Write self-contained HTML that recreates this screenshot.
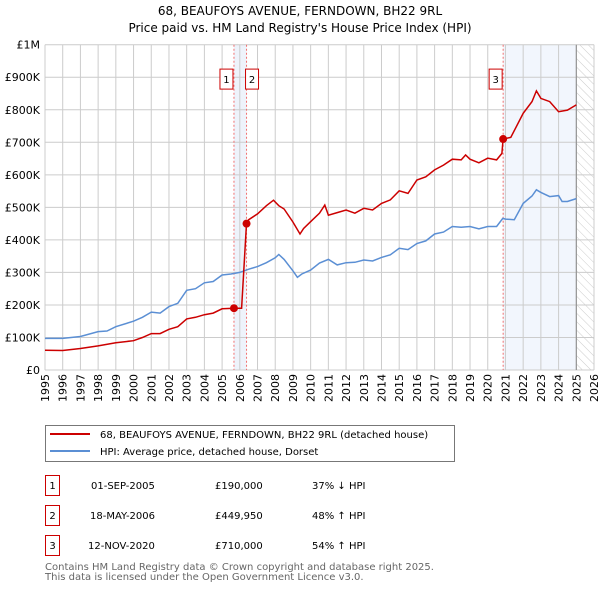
<!DOCTYPE html>
<html><head><meta charset="utf-8"><style>
body{margin:0;background:#fff;font-family:"Liberation Sans","DejaVu Sans",sans-serif}
</style></head><body>
<svg width="600" height="590" xmlns="http://www.w3.org/2000/svg" style="font-family:'DejaVu Sans','Liberation Sans',sans-serif">
<defs><pattern id="hatch" width="6" height="6" patternUnits="userSpaceOnUse" patternTransform="rotate(-45)"><line x1="0" y1="0" x2="0" y2="6" stroke="#ccc" stroke-width="1"/></pattern></defs>
<text x="300" y="15" text-anchor="middle" font-size="12">68, BEAUFOYS AVENUE, FERNDOWN, BH22 9RL</text>
<text x="300" y="32" text-anchor="middle" font-size="12">Price paid vs. HM Land Registry's House Price Index (HPI)</text>
<g id="plot"></g>
<g>
<rect x="45.5" y="425.5" width="409" height="36" fill="#fff" stroke="#777"/>
<line x1="50" y1="434" x2="90" y2="434" stroke="#cc0000" stroke-width="2"/>
<text x="100" y="438" font-size="10">68, BEAUFOYS AVENUE, FERNDOWN, BH22 9RL (detached house)</text>
<line x1="50" y1="451" x2="90" y2="451" stroke="#5b8fd4" stroke-width="2"/>
<text x="100" y="455" font-size="10">HPI: Average price, detached house, Dorset</text>
</g>
<g font-size="10">
<rect x="45.5" y="475.5" width="14" height="20" fill="none" stroke="#c00"/><text x="52.5" y="489" text-anchor="middle">1</text>
<text x="91" y="489">01-SEP-2005</text><text x="215" y="489">£190,000</text><text x="312" y="489">37% ↓ HPI</text>
<rect x="45.5" y="505.5" width="14" height="20" fill="none" stroke="#c00"/><text x="52.5" y="519" text-anchor="middle">2</text>
<text x="90" y="519">18-MAY-2006</text><text x="215" y="519">£449,950</text><text x="312" y="519">48% ↑ HPI</text>
<rect x="45.5" y="535.5" width="14" height="20" fill="none" stroke="#c00"/><text x="52.5" y="549" text-anchor="middle">3</text>
<text x="88" y="549">12-NOV-2020</text><text x="215" y="549">£710,000</text><text x="312" y="549">54% ↑ HPI</text>
</g>
<text x="45" y="570" font-size="10" fill="#666">Contains HM Land Registry data © Crown copyright and database right 2025.</text>
<text x="45" y="580" font-size="10" fill="#666">This data is licensed under the Open Government Licence v3.0.</text>
</svg>
<script>
const hpiT=[1995,1996,1997,1998,1998.5,1999,2000,2000.5,2001,2001.5,2002,2002.5,2003,2003.5,2004,2004.5,2005,2005.5,2006,2006.5,2007,2007.5,2008,2008.2,2008.5,2009,2009.25,2009.5,2010,2010.5,2011,2011.5,2012,2012.5,2013,2013.5,2014,2014.5,2015,2015.5,2016,2016.5,2017,2017.5,2018,2018.5,2019,2019.5,2020,2020.5,2020.85,2021,2021.5,2022,2022.5,2022.75,2023,2023.5,2024,2024.2,2024.5,2025];
const hpiV=[97,97,103,118,120,133,150,162,178,175,195,205,245,250,268,272,292,295,300,310,318,330,345,355,340,305,285,295,307,329,340,323,330,331,338,335,346,354,374,370,389,397,418,424,441,439,441,434,441,441,466,464,462,512,535,554,546,533,536,518,518,527];
const redT=[1995,1996,1997,1998,1999,2000,2000.5,2001,2001.5,2002,2002.5,2003,2003.5,2004,2004.5,2005,2005.67,2006.1,2006.38,2006.5,2007,2007.5,2007.9,2008.2,2008.5,2009,2009.4,2009.6,2010,2010.5,2010.8,2011,2011.5,2012,2012.5,2013,2013.5,2014,2014.5,2015,2015.5,2016,2016.5,2017,2017.5,2018,2018.5,2018.75,2019,2019.5,2020,2020.5,2020.8,2020.87,2021.3,2022,2022.5,2022.75,2023,2023.5,2024,2024.5,2025];
const redV=[61,60,66,74,84,90,100,112,112,125,133,157,162,170,175,188,190,190,450,462,480,505,522,505,495,455,418,435,456,482,507,476,484,492,482,497,492,512,523,551,543,584,594,615,630,648,646,661,648,637,651,646,666,710,715,789,825,858,835,825,794,799,815];
const saleT=[2005.67,2006.38,2020.87];
const saleV=[190,449.95,710];
const saleLabels=["1","2","3"];
const yTicks=[0,100,200,300,400,500,600,700,800,900,1000];
const yTickLabels=["£0","£100K","£200K","£300K","£400K","£500K","£600K","£700K","£800K","£900K","£1M"];
const xTicks=[];for(let y=1995;y<=2026;y++)xTicks.push(y);
const X0=45,X1=594,Y0=370,Y1=44.7;
const xs=t=>X0+(t-1995)/(2026-1995)*(X1-X0);
const ys=v=>Y0-v/1000*(Y0-Y1);
const NS="http://www.w3.org/2000/svg";
const g=document.getElementById('plot');
function mk(tag,at,parent){const e=document.createElementNS(NS,tag);for(const k in at)e.setAttribute(k,at[k]);(parent||g).appendChild(e);return e;}
let e;
e=mk('rect',{x:xs(saleT[0]),y:Y1,width:xs(saleT[1])-xs(saleT[0]),height:Y0-Y1,fill:'#eef3fb'});


e=mk('rect',{x:xs(saleT[2]),y:Y1,width:xs(2025)-xs(saleT[2]),height:Y0-Y1,fill:'#f2f6fd'});


e=mk('rect',{x:xs(2025),y:Y1,width:X1-xs(2025),height:Y0-Y1,fill:'url(#hatch)'});


xTicks.forEach(t=>{
 e=mk('line',{x1:xs(t),x2:xs(t),y1:Y1,y2:Y0,stroke:'#ccc','stroke-width':1});
 
 
 const tx=xs(t)+4,ty=374;
 e=mk('text',{x:tx,y:ty,'text-anchor':'end','font-size':11,transform:`rotate(-90 ${tx} ${ty})`});e.textContent=t;
 
 
});
yTicks.forEach((v,i)=>{
 e=mk('line',{x1:X0,x2:X1,y1:ys(v),y2:ys(v),stroke:'#ccc','stroke-width':1});
 
 
 e=mk('text',{x:40,y:ys(v)+4,'text-anchor':'end','font-size':11});e.textContent=yTickLabels[i];
 
 
});
e=mk('line',{x1:xs(2025),x2:xs(2025),y1:Y1,y2:Y0,stroke:'#888','stroke-width':1});


saleT.forEach(t=>{
 e=mk('line',{x1:xs(t),x2:xs(t),y1:Y1,y2:Y0,stroke:'#f07070','stroke-width':1,'stroke-dasharray':'2,2'});
 
 
});
const pts=(T,V)=>T.map((t,i)=>xs(t).toFixed(1)+','+ys(V[i]).toFixed(1)).join(' ');
e=mk('polyline',{points:pts(hpiT,hpiV),fill:'none',stroke:'#5b8fd4','stroke-width':1.5});


e=mk('polyline',{points:pts(redT,redV),fill:'none',stroke:'#cc0000','stroke-width':1.5});


saleT.forEach((t,i)=>{
 e=mk('circle',{cx:xs(t),cy:ys(saleV[i]),r:4,fill:'#cc0000'});
 
 
 const bx=(i==1)?xs(t)-1:xs(t)-14;
 e=mk('rect',{x:bx,y:ys(925),width:13,height:20,fill:'#fff',stroke:'#c00'});
 
 
 e=mk('text',{x:bx+6.5,y:ys(925)+14,'text-anchor':'middle','font-size':10});e.textContent=saleLabels[i];
 
 
});
</script>
</body></html>
